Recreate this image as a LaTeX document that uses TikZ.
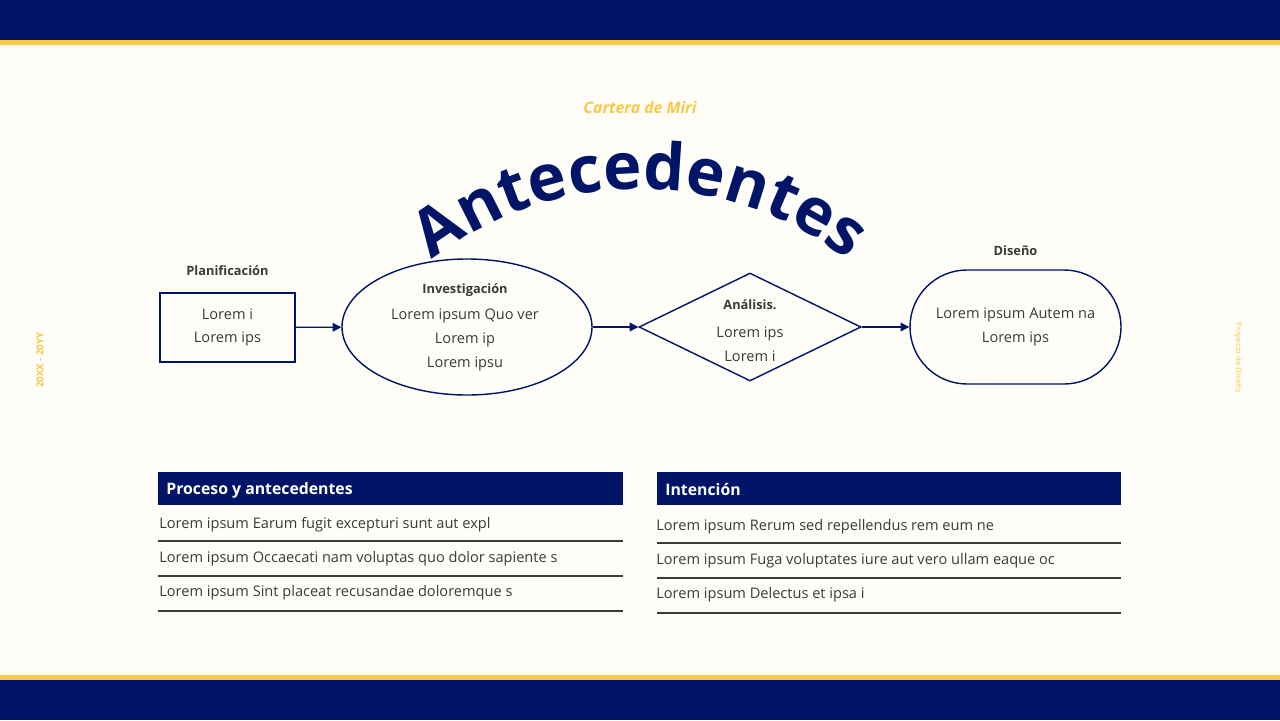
\documentclass[tikz,border=0pt]{standalone}
\usepackage{fontspec}
\setmainfont{Open Sans}
\usetikzlibrary{shapes.geometric,positioning,decorations.text,arrows.meta}
\definecolor{navy}{HTML}{001568}
\definecolor{gold}{HTML}{F9C846}
\definecolor{paper}{HTML}{FEFDF8}
\definecolor{ink}{HTML}{3A3A3A}
\tikzset{
  body/.style={font=\fontsize{8.3}{13.5}\selectfont, text=ink, align=center},
  small/.style={font=\fontsize{7.3}{9}\selectfont\bfseries, text=ink},
  flow/.style={draw=navy, line width=0.8pt},
  link/.style={navy, line width=0.7pt, -{Triangle[length=5pt,width=5pt]}},
  head/.style={fill=navy, text=white, font=\fontsize{9}{11}\selectfont\bfseries, anchor=west, inner sep=0pt},
  row/.style={font=\fontsize{8.3}{10}\selectfont, text=ink, anchor=west, inner sep=0pt},
  rule/.style={draw=ink, line width=0.7pt}
}
\begin{document}
\begin{tikzpicture}[x=0.02cm,y=-0.02cm]
\fill[paper] (0,0) rectangle (1280,720);
\fill[navy] (0,0) rectangle (1280,40);
\fill[gold] (0,40) rectangle (1280,45);
\fill[gold] (0,675) rectangle (1280,680);
\fill[navy] (0,680) rectangle (1280,720);

\node[text=gold, font=\fontsize{9}{10}\selectfont\bfseries\itshape] (brand) at (640,108) {Cartera de Miri};
\path[decorate, decoration={text along path, text align=center,
  text={|\fontsize{37}{37}\selectfont\bfseries\color{navy}|Antecedentes}}]
  (640,527) ++(233:338) arc (233:307:338);

\node[text=gold, rotate=90, font=\fontsize{5.5}{6}\selectfont\bfseries] (years) at (40,360) {20XX - 20YY};
\node[text=gold, rotate=-90, font=\fontsize{4.5}{5}\selectfont] (proj) at (1238,358) {Proyecto de Diseño};

% flow
\node[flow, body, minimum width=135*0.02cm, minimum height=69*0.02cm] (plan) at (227.5,327.5) {Lorem i\\Lorem ips};
\node[small, above=6pt of plan] (planl) {Planificación};
\node[flow, body, ellipse, minimum width=250*0.02cm, minimum height=136*0.02cm] (inv) at (467,327) {};
\node[small] (invl) at (465,290) {Investigación};
\node[body] (invt) at (465,340) {Lorem ipsum Quo ver\\Lorem ip\\Lorem ipsu};
\node[flow, diamond, aspect=2.05, minimum width=222*0.02cm, minimum height=108*0.02cm, inner sep=0pt] (ana) at (750,327) {};
\node[small] (anal) at (750,305) {Análisis.};
\node[body] (anat) at (750,344) {Lorem ips\\Lorem i};
\node[flow, body, rounded corners=57*0.02cm, minimum width=211*0.02cm, minimum height=114*0.02cm] (dis) at (1015.5,327) {Lorem ipsum Autem na\\Lorem ips};
\node[small, above=4pt of dis] (disl) {Diseño};

\draw[link] (plan) -- (inv);
\draw[link] (inv) -- (ana);
\draw[link] (ana) -- (dis);

% tables
\fill[navy] (158,472) rectangle (623,505);
\node[head] (hl) at (166,490) {Proceso y antecedentes};
\node[row] (l1) at (159,525) {Lorem ipsum Earum fugit excepturi sunt aut expl};
\node[row] (l2) at (159,559) {Lorem ipsum Occaecati nam voluptas quo dolor sapiente s};
\node[row] (l3) at (159,593) {Lorem ipsum Sint placeat recusandae doloremque s};
\foreach \y in {541,576,611} \draw[rule] (158,\y) -- (623,\y);

\fill[navy] (657,472) rectangle (1121,505);
\node[head] (hr) at (665,490) {Intención};
\node[row] (r1) at (656,527) {Lorem ipsum Rerum sed repellendus rem eum ne};
\node[row] (r2) at (656,561) {Lorem ipsum Fuga voluptates iure aut vero ullam eaque oc};
\node[row] (r3) at (656,595) {Lorem ipsum Delectus et ipsa i};
\foreach \y in {543,578,613} \draw[rule] (657,\y) -- (1121,\y);
\end{tikzpicture}
\end{document}
